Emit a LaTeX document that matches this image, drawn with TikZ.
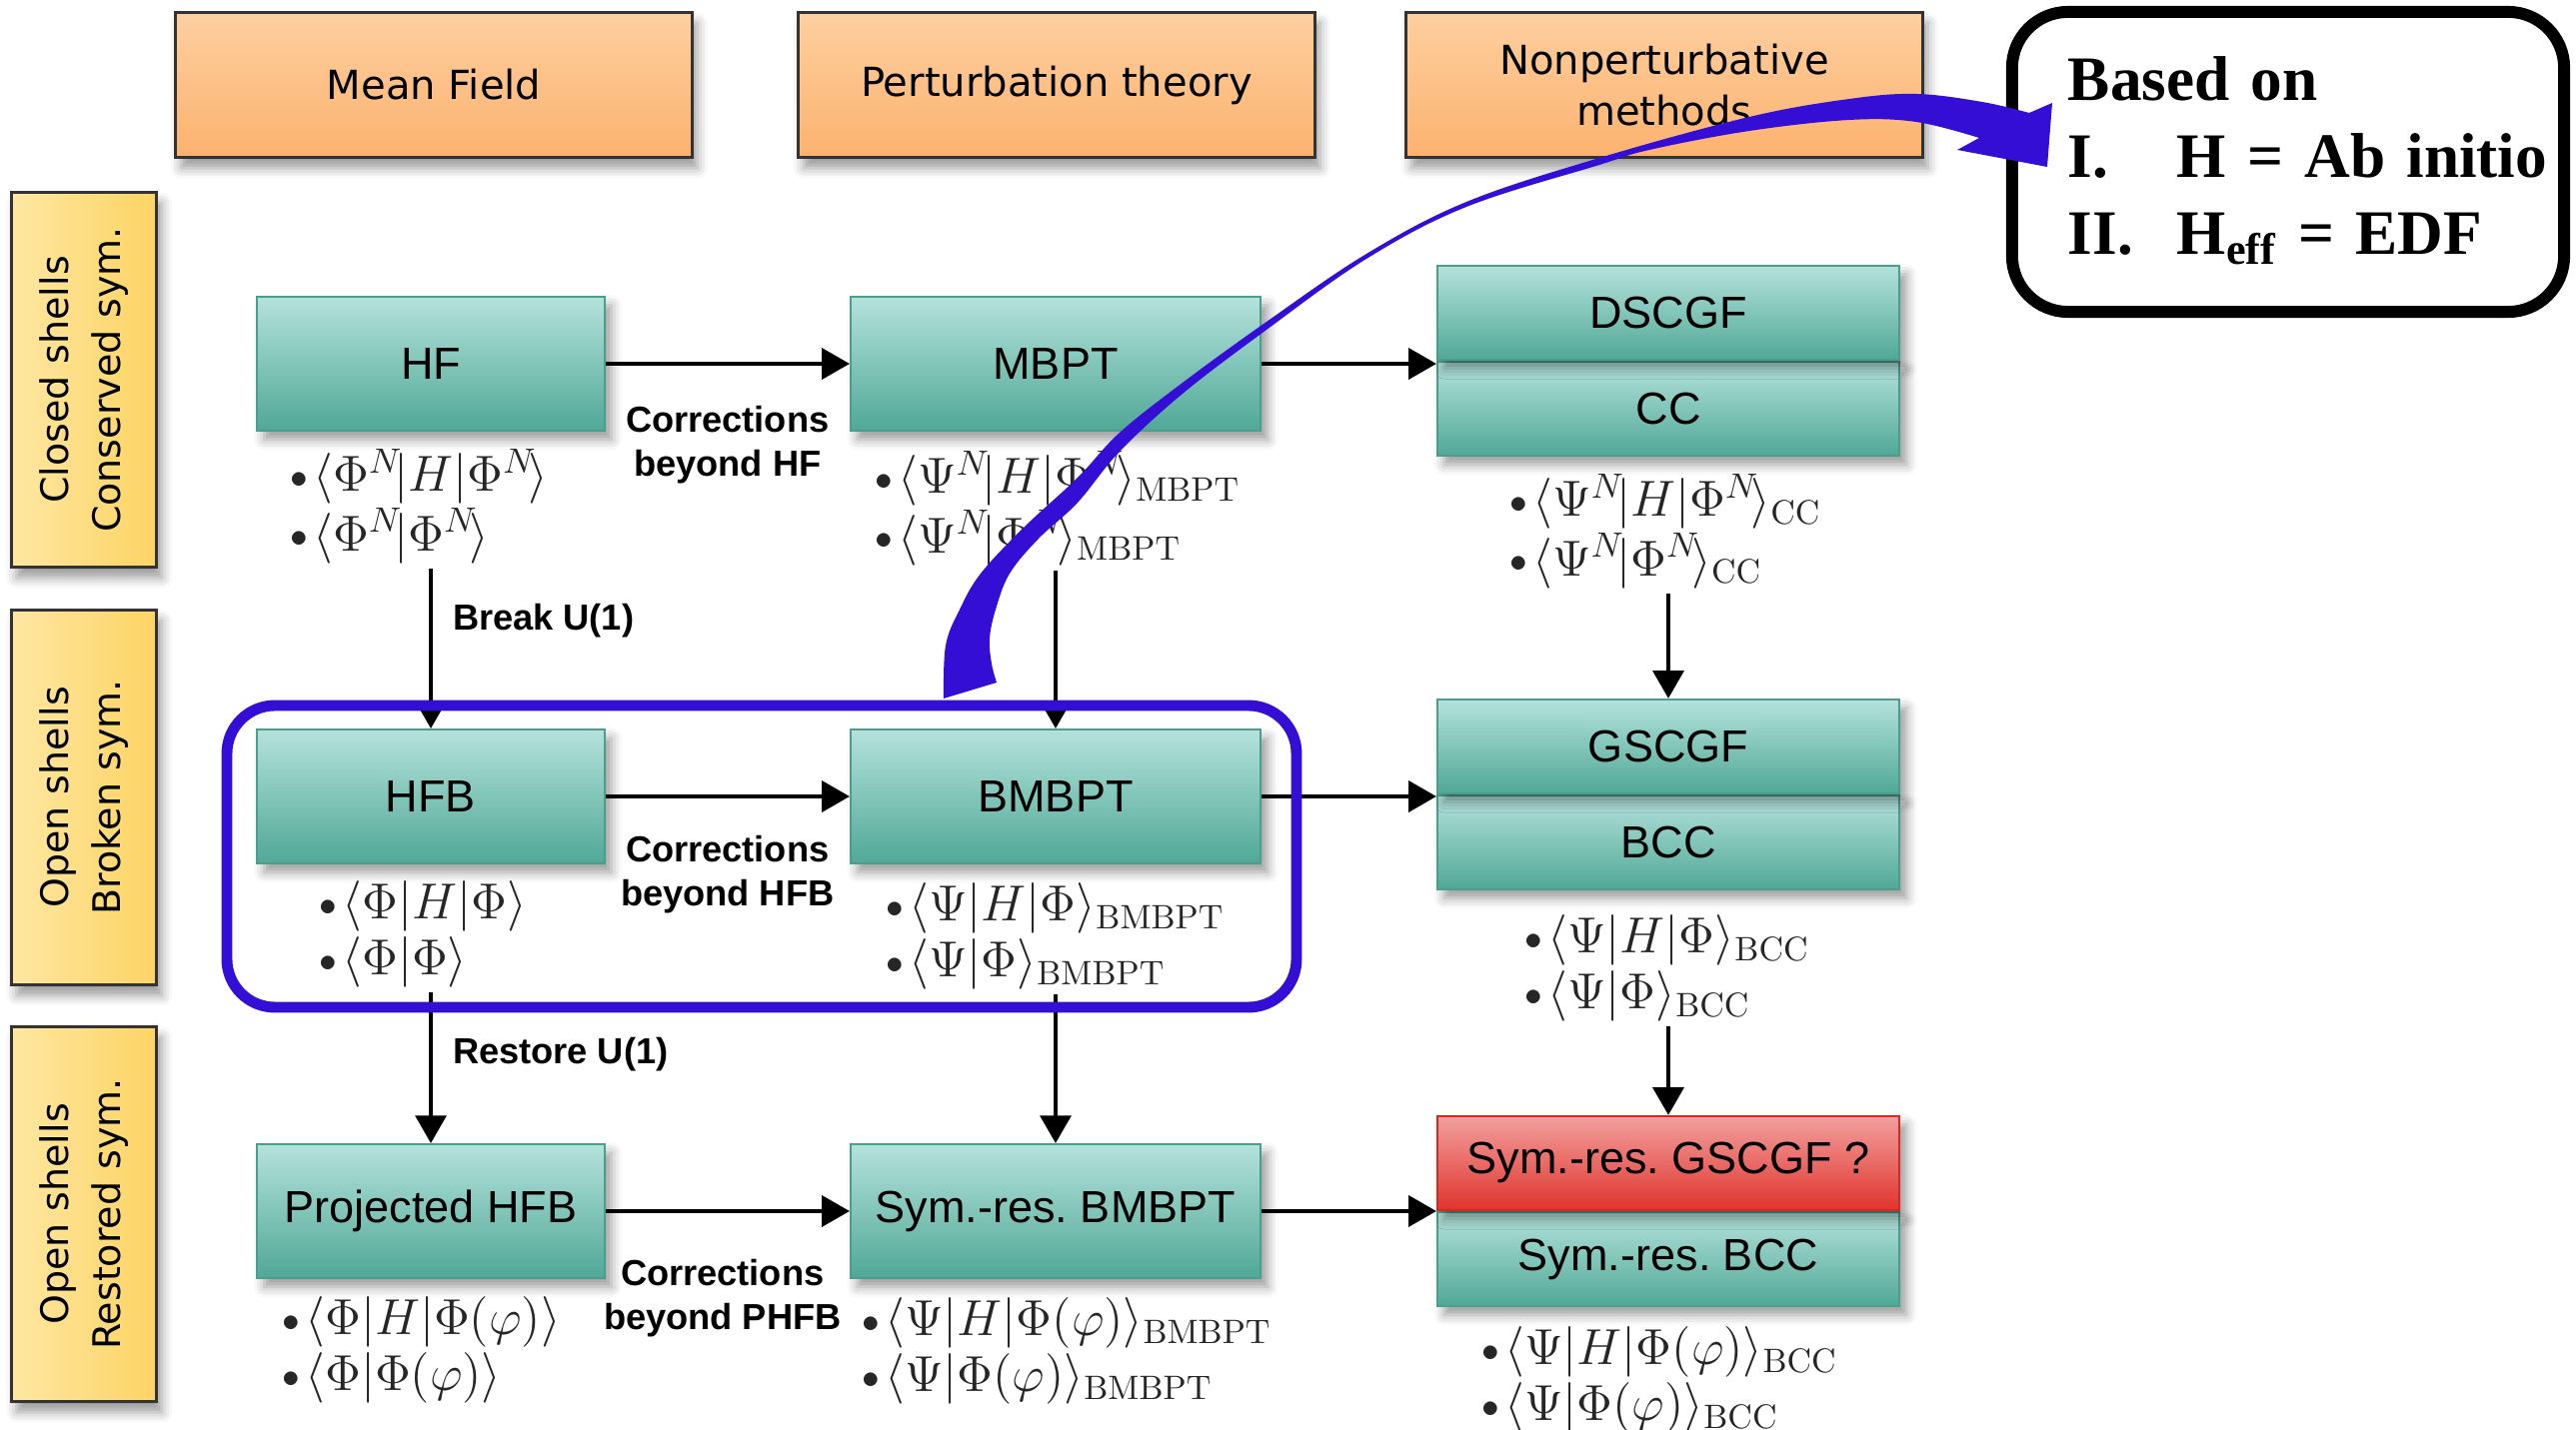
\documentclass[tikz,border=0pt]{standalone}
\usepackage{fontspec}
\usepackage{amsmath}
\usetikzlibrary{arrows,fit,positioning,shadows.blur}
\newfontfamily\dejavufam{DejaVu Sans}
\newfontfamily\arialfam{Liberation Sans}
\newfontfamily\timesfam{Liberation Serif}
\definecolor{headtop}{RGB}{253,207,160}
\definecolor{headbot}{RGB}{252,178,110}
\definecolor{rowleft}{RGB}{254,231,162}
\definecolor{rowright}{RGB}{253,212,100}
\definecolor{tealtop}{RGB}{180,226,220}
\definecolor{tealbot}{RGB}{80,168,150}
\definecolor{tealline}{RGB}{76,158,139}
\definecolor{redtop}{RGB}{242,160,157}
\definecolor{redbot}{RGB}{224,52,46}
\definecolor{redline}{RGB}{214,40,35}
\definecolor{ringblue}{RGB}{52,14,212}
\frenchspacing
\tikzset{
    %Define standard arrow tip
    >=triangle 60,
    %Define style for boxes
    header/.style={
           rectangle,
           draw=black!80, thick,
           top color=headtop, bottom color=headbot,
           minimum width=5.16cm,
           minimum height=1.45cm,
           align=center,
           font=\dejavufam\fontsize{11.4}{14.5}\selectfont,
           blur shadow={shadow xshift=1.5pt, shadow yshift=-3pt, shadow blur radius=3pt}
           },
    rowlabel/.style={
           rectangle,
           draw=black!80, thick,
           rotate=90,
           left color=rowleft, right color=rowright,
           minimum width=3.75cm,
           minimum height=1.45cm,
           align=center,
           font=\dejavufam\fontsize{10.8}{14.8}\selectfont,
           blur shadow={shadow xshift=1.5pt, shadow yshift=-3pt, shadow blur radius=3pt}
           },
    method/.style={
           rectangle,
           draw=tealline, semithick,
           top color=tealtop, bottom color=tealbot,
           minimum height=1.34cm,
           font=\arialfam\fontsize{12.8}{15}\selectfont,
           blur shadow={shadow xshift=2pt, shadow yshift=-2.5pt, shadow blur radius=3pt}
           },
    half/.style={
           method,
           minimum width=4.62cm,
           minimum height=0.94cm},
    open/.style={
           half,
           draw=redline,
           top color=redtop, bottom color=redbot},
    formula/.style={
           anchor=base west,
           inner sep=0pt,
           text=black!85,
           font=\fontsize{13.8}{15.9}\selectfont},
    note/.style={
           inner sep=0pt,
           align=center,
           font=\arialfam\bfseries\fontsize{10.3}{12.5}\selectfont},
    basis/.style={
           rectangle,
           draw, line width=3.4pt,
           rounded corners=0.56cm,
           minimum width=5.52cm,
           minimum height=3.0cm,
           text width=4.4cm,
           inner xsep=0.56cm,
           font=\timesfam\bfseries\fontsize{18}{21.9}\selectfont},
    % Define arrow style
    pil/.style={
           ->,
           line width=1.15pt},
    ring/.style={
           draw=ringblue,
           line width=3.1pt,
           rounded corners=0.48cm}
}
\newcommand{\mel}[3]{\langle#1|#2|#3\rangle}
\newcommand{\ovl}[2]{\langle#1|#2\rangle}
\newcommand{\nN}{^{N}\!}
\newcommand{\bul}{\makebox[6.5pt][l]{\raisebox{1pt}{$\scriptstyle\bullet$}}}
\newcommand{\eqpair}[2]{\begin{tabular}[t]{@{}l@{}}\bul$#1$\\\bul$#2$\end{tabular}}

\begin{document}
\begin{tikzpicture}[x=0.01cm, y=-0.01cm]
\useasboundingbox (0,0) rectangle (2577,1431);
% column headers
\node[header] (mf) at (434,85) {Mean Field};
\node[header] (pt) at (1057,85) {Perturbation theory};
\node[header] (np) at (1665,85) {Nonperturbative\\methods};
% row labels
\node[rowlabel] (closed) at (84,380) {Closed shells\\Conserved sym.};
\node[rowlabel] (broken) at (84,798) {Open shells\\Broken sym.};
\node[rowlabel] (restored) at (84,1215) {Open shells\\Restored sym.};
% methods
\node[method, minimum width=3.47cm] (hf) at (431,364) {HF};
\node[method, minimum width=4.10cm] (mbpt) at (1056,364) {MBPT};
\node[half] (cc) at (1669,409) {CC};
\node[half, above=0pt of cc] (dscgf) {DSCGF};
\node[method, minimum width=3.47cm] (hfb) at (431,797) {HFB};
\node[method, minimum width=4.10cm] (bmbpt) at (1056,797) {BMBPT};
\node[half] (bcc) at (1669,843) {BCC};
\node[half, above=0pt of bcc] (gscgf) {GSCGF};
\node[method, minimum width=3.47cm] (phfb) at (431,1212) {Projected HFB};
\node[method, minimum width=4.10cm] (symbmbpt) at (1056,1212) {Sym.-res. BMBPT};
\node[half] (symbcc) at (1669,1260) {Sym.-res. BCC};
\node[open, above=0pt of symbcc] (symgscgf) {Sym.-res. GSCGF ?};
% overlaps
\node[formula] (hf-eq) at (290,492) {\eqpair{\mel{\Phi\nN}{H}{\Phi\nN}}{\ovl{\Phi\nN}{\Phi\nN}}};
\node[formula] (mbpt-eq) at (875,494) {\eqpair{\mel{\Psi\nN}{H}{\Phi\nN}_{\mathrm{MBPT}}}{\ovl{\Psi\nN}{\Phi\nN}_{\mathrm{MBPT}}}};
\node[formula] (cc-eq) at (1510,517) {\eqpair{\mel{\Psi\nN}{H}{\Phi\nN}_{\mathrm{CC}}}{\ovl{\Psi\nN}{\Phi\nN}_{\mathrm{CC}}}};
\node[formula] (hfb-eq) at (319,920) {\eqpair{\mel{\Phi}{H}{\Phi}}{\ovl{\Phi}{\Phi}}};
\node[formula] (bmbpt-eq) at (886,922) {\eqpair{\mel{\Psi}{H}{\Phi}_{\mathrm{BMBPT}}}{\ovl{\Psi}{\Phi}_{\mathrm{BMBPT}}}};
\node[formula] (bcc-eq) at (1525,954) {\eqpair{\mel{\Psi}{H}{\Phi}_{\mathrm{BCC}}}{\ovl{\Psi}{\Phi}_{\mathrm{BCC}}}};
\node[formula] (phfb-eq) at (282,1336) {\eqpair{\mel{\Phi}{H}{\Phi(\varphi)}}{\ovl{\Phi}{\Phi(\varphi)}}};
\node[formula] (symbmbpt-eq) at (862,1337) {\eqpair{\mel{\Psi}{H}{\Phi(\varphi)}_{\mathrm{BMBPT}}}{\ovl{\Psi}{\Phi(\varphi)}_{\mathrm{BMBPT}}}};
\node[formula] (symbcc-eq) at (1482,1366) {\eqpair{\mel{\Psi}{H}{\Phi(\varphi)}_{\mathrm{BCC}}}{\ovl{\Psi}{\Phi(\varphi)}_{\mathrm{BCC}}}};
% horizontal arrows
\draw[pil] (hf) -- node[note, below=0.40cm] (corr-hf) {Corrections\\beyond HF} (mbpt);
\draw[pil] (mbpt) -- (mbpt -| dscgf.west);
\draw[pil] (hfb) -- node[note, below=0.375cm] (corr-hfb) {Corrections\\beyond HFB} (bmbpt);
\draw[pil] (bmbpt) -- (bmbpt -| gscgf.west);
\draw[pil] (phfb) -- node[note, below=0.46cm, xshift=-0.05cm] (corr-phfb) {Corrections\\beyond PHFB} (symbmbpt);
\draw[pil] (symbmbpt) -- (symbmbpt -| symgscgf.west);
% vertical arrows
\draw[pil] (hf-eq.south -| hfb.north) -- node[note, anchor=west, pos=0.33, xshift=0.2cm] (brk) {Break U(1)} (hfb);
\draw[pil] (mbpt-eq.south -| bmbpt.north) -- (bmbpt);
\draw[pil] (cc-eq.south -| gscgf.north) -- (gscgf);
\draw[pil] (hfb-eq.south -| phfb.north) -- node[note, anchor=west, pos=0.41, xshift=0.2cm] (rst) {Restore U(1)} (phfb);
\draw[pil] (bmbpt-eq.south -| symbmbpt.north) -- (symbmbpt);
\draw[pil] (bcc-eq.south -| symgscgf.north) -- (symgscgf);
% broken-symmetry frame
\draw[ring] (227,706) rectangle (1297,1008);
% based on
\node[basis] (basis) at (2289,162) {\begin{tabular}{@{}p{1.09cm}@{}l@{}}
  \multicolumn{2}{@{}l@{}}{Based on}\\
  I. & H = Ab initio\\
  II. & H\textsubscript{eff} = EDF
\end{tabular}};
% curved arrow
\fill[ringblue] plot[smooth, tension=0.6] coordinates {(944,699) (946,646) (960,610) (981,574) (1024,528) (1078,478) (1120,433) (1183,383) (1267,322) (1367,254) (1467,202) (1600,158) (1750,117) (1850,99) (1917,94) (1983,102) (2030,113)}
  -- (2053,103) -- (2048,167) -- (1958,150)
  -- plot[smooth, tension=0.6] coordinates {(1980,138) (1917,122) (1850,120) (1750,131) (1650,150) (1600,165) (1467,207) (1367,259) (1267,330) (1183,394) (1120,452) (1078,503) (1039,539) (1010,574) (996,610) (990,639) (992,664) (997,683)}
  -- cycle;
\end{tikzpicture}
\end{document}
